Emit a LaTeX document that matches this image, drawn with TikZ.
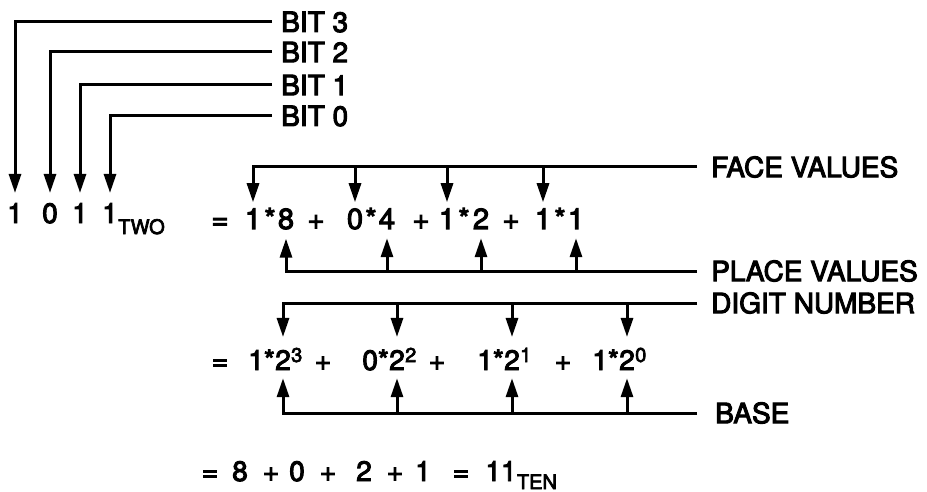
\documentclass[tikz,border=0pt]{standalone}
\usepackage{fontspec}
\newfontfamily\hv{TeX Gyre Heros}[FakeBold=3.5]
\usetikzlibrary{arrows.meta}
\tikzset{
  arr/.style={line width=3pt, -{Triangle[width=12pt,length=19pt]}},
  lab/.style={font=\hv\fontsize{28}{30}\selectfont, inner sep=0pt, anchor=west},
  big/.style={font=\hv\fontsize{28}{30}\selectfont, inner sep=0pt, anchor=base},
  eqa/.style={font=\hv\fontsize{29}{31}\selectfont, inner sep=0pt, anchor=base},
  sub/.style={font=\hv\fontsize{20}{22}\selectfont, inner sep=0pt, anchor=base west},
}
\begin{document}
\begin{tikzpicture}[x=1pt,y=-1pt]
\useasboundingbox (0,0) rectangle (927,492);
% bit labels
\node[lab] (b3) at (281,22) {BIT 3};
\node[lab] (b2) at (281,52) {BIT 2};
\node[lab] (b1) at (281,85) {BIT 1};
\node[lab] (b0) at (281,116) {BIT 0};
\node[big] (d3) at (15,223) {1};
\node[big] (d2) at (50,223) {0};
\node[big] (d1) at (80,223) {1};
\node[big] (d0) at (110,223) {1};
\node[sub] (two) at ([yshift=-11pt]d0.base east) {TWO};
\draw[arr] ([xshift=-9pt]b3.west) -| ([yshift=10pt]d3.north);
\draw[arr] ([xshift=-9pt]b2.west) -| ([yshift=10pt]d2.north);
\draw[arr] ([xshift=-9pt]b1.west) -| ([yshift=10pt]d1.north);
\draw[arr] ([xshift=-9pt]b0.west) -| ([yshift=10pt]d0.north);
% right labels
\node[lab] (fv) at (711,167) {FACE VALUES};
\node[lab] (pv) at (711,271) {PLACE VALUES};
\node[lab] (dn) at (711,303) {DIGIT NUMBER};
\node[lab] (bs) at (715,413) {BASE};
% equation 1
\node[eqa] (e1) at (220,229) {=};
\node[eqa] (f1) at (253,229) {1};
\node[eqa] (s1) at (270,229) {*};
\node[eqa] (p1) at (286,229) {8};
\node[eqa] (a1) at (316,229) {+};
\node[eqa] (f2) at (355,229) {0};
\node[eqa] (s2) at (371,229) {*};
\node[eqa] (p2) at (387,229) {4};
\node[eqa] (a2) at (421,229) {+};
\node[eqa] (f3) at (447,229) {1};
\node[eqa] (s3) at (464,229) {*};
\node[eqa] (p3) at (481,229) {2};
\node[eqa] (a3) at (511,229) {+};
\node[eqa] (f4) at (543,229) {1};
\node[eqa] (s4) at (560,229) {*};
\node[eqa] (p4) at (576,229) {1};
\draw[arr] ([xshift=-14pt]fv.west) -| ([yshift=6pt]f1.north);
\foreach \n in {f2,f3,f4} \draw[arr] (\n.north |- fv.west) -- ([yshift=6pt]\n.north);
\draw[arr] ([xshift=-14pt]pv.west) -| ([yshift=-9pt]p1.south);
\foreach \n in {p2,p3,p4} \draw[arr] (\n.south |- pv.west) -- ([yshift=-9pt]\n.south);
% equation 2
\node[big] (e2) at (220,370) {=};
\node[big] (g1) at (283,370) {2};
\node[big, anchor=base east] (h1) at (g1.base west) {1*};
\node[sub] (x1) at ([yshift=8pt]g1.base east) {3};
\node[big] (q1) at (323,370) {+};
\node[big] (g2) at (397,370) {2};
\node[big, anchor=base east] (h2) at (g2.base west) {0*};
\node[sub] (x2) at ([yshift=8pt]g2.base east) {2};
\node[big] (q2) at (437,370) {+};
\node[big] (g3) at (512,370) {2};
\node[big, anchor=base east] (h3) at (g3.base west) {1*};
\node[sub] (x3) at ([yshift=8pt]g3.base east) {1};
\node[big] (q3) at (563,370) {+};
\node[big] (g4) at (627,370) {2};
\node[big, anchor=base east] (h4) at (g4.base west) {1*};
\node[sub] (x4) at ([yshift=8pt]g4.base east) {0};
\draw[arr] ([xshift=-14pt]dn.west) -| ([yshift=13pt]g1.north);
\foreach \n in {g2,g3,g4} \draw[arr] (\n.north |- dn.west) -- ([yshift=13pt]\n.north);
\draw[arr] ([xshift=-18pt]bs.west) -| ([yshift=-8pt]g1.south);
\foreach \n in {g2,g3,g4} \draw[arr] (\n.south |- bs.west) -- ([yshift=-8pt]\n.south);
% equation 3
\foreach \x/\t [count=\i] in {210/=,240/8,271/+,297/0,328/+,364/2,395/+,423/1,461/=,501/11}
  \node[big] (t\i) at (\x,481) {\t};
\node[sub] (ten) at ([yshift=-8pt]t10.base east) {TEN};
\end{tikzpicture}
\end{document}
